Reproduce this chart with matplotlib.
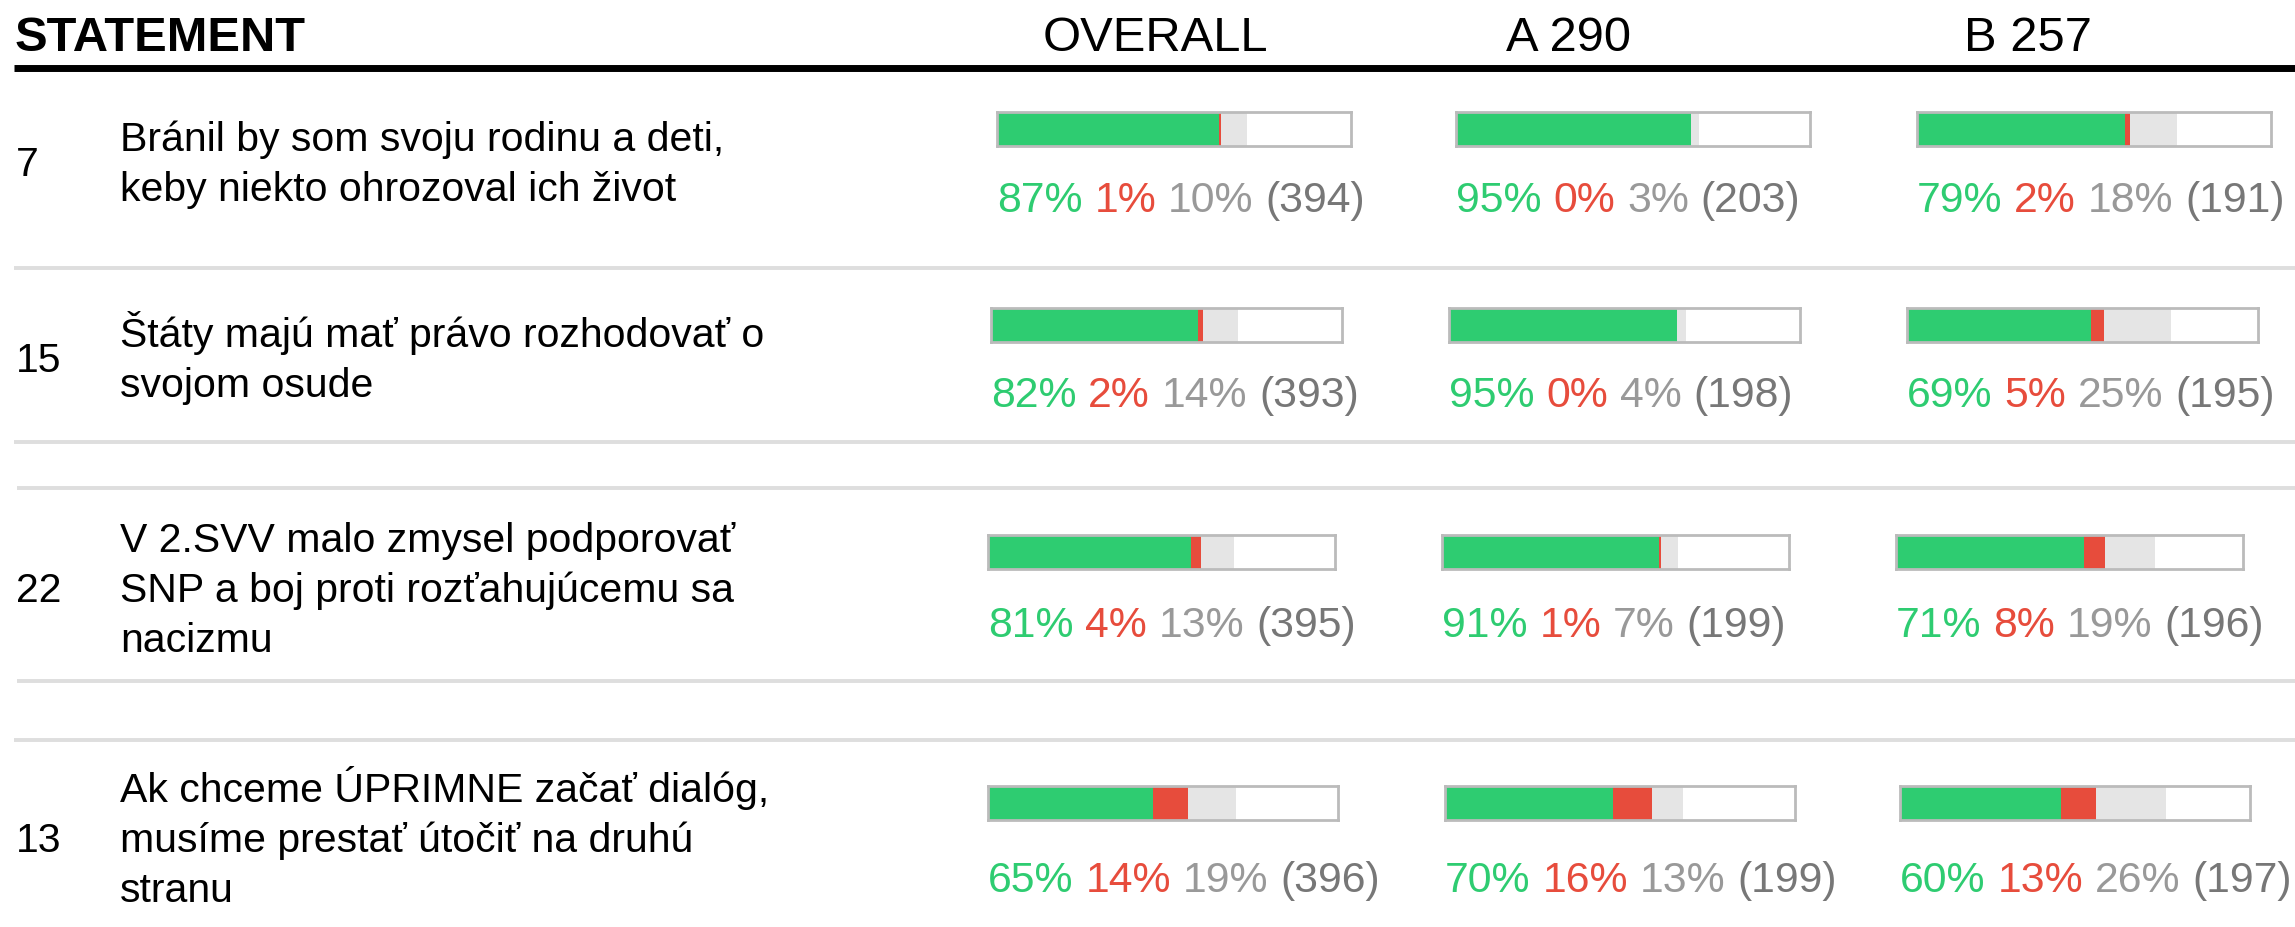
import matplotlib
matplotlib.use("Agg")
import matplotlib.pyplot as plt

plt.rcParams['font.family'] = ['Liberation Sans', 'DejaVu Sans']

# ---------------- data ----------------
columns = ["OVERALL", "A 290", "B 257"]
group_sizes = [547, 290, 257]          # respondents in each column (A + B = overall)

numbers = ["7", "15", "22", "13"]
statements = [
    ["Bránil by som svoju rodinu a deti,", "keby niekto ohrozoval ich život"],
    ["Štáty majú mať právo rozhodovať o", "svojom osude"],
    ["V 2.SVV malo zmysel podporovať", "SNP a boj proti rozťahujúcemu sa", "nacizmu"],
    ["Ak chceme ÚPRIMNE začať dialóg,", "musíme prestať útočiť na druhú", "stranu"],
]

agree_overall = [87, 82, 81, 65]
agree_a = [95, 95, 91, 70]
agree_b = [79, 69, 71, 60]

disagree_overall = [1, 2, 4, 14]
disagree_a = [0, 0, 1, 16]
disagree_b = [2, 5, 8, 13]

neutral_overall = [10, 14, 13, 19]
neutral_a = [3, 4, 7, 13]
neutral_b = [18, 25, 19, 26]

count_overall = [394, 393, 395, 396]
count_a = [203, 198, 199, 199]
count_b = [191, 195, 196, 197]

agree = [agree_overall, agree_a, agree_b]
disagree = [disagree_overall, disagree_a, disagree_b]
neutral = [neutral_overall, neutral_a, neutral_b]
counts = [count_overall, count_a, count_b]

# ---------------- style / layout ----------------
W, H = 2295, 928
GREEN = "#2ECC71"
RED = "#E74C3C"
LIGHT = "#E5E5E5"
BORDER = "#BBBBBB"
GRAY_PCT = "#999999"
GRAY_N = "#777777"
SEP = "#DEDEDE"

FS_PCT = 30.8
FS_STMT = 29.5
FS_NUM = 29.5
FS_HEAD = 35.2

# layout (pixel positions in the figure)
bar_left = [[997, 1456, 1917], [991, 1449, 1907], [988, 1442, 1896], [988, 1445, 1900]]
bar_width = [354, 351, 347, 350]
bar_top = [113, 309, 536, 787]
bar_h = 34
text_base = [212, 407, 637, 892]
num_base = [176, 372, 602, 852]
line_gap = 50
head_x = [1155, 1569, 2028]

fig = plt.figure(figsize=(W / 100, H / 100), dpi=100)
bg = fig.add_axes([0, 0, 1, 1])
bg.set_xlim(0, W)
bg.set_ylim(H, 0)
bg.axis("off")

# header
bg.text(15, 51, "STATEMENT", fontsize=FS_HEAD, fontweight="bold", ha="left", va="baseline", color="black")
for cx, name in zip(head_x, columns):
    bg.text(cx, 51, name, fontsize=FS_HEAD, ha="center", va="baseline", color="black")
bg.plot([14, W], [68.5, 68.5], color="black", lw=5.0, solid_capstyle="butt")

# separators
for y, x0 in zip([269, 443, 489, 682, 741], [14, 14, 17, 17, 14]):
    bg.plot([x0, W], [y, y], color=SEP, lw=2.8, solid_capstyle="butt")

renderer = fig.canvas.get_renderer()


def text_width(s, fs):
    t = bg.text(0, 0, s, fontsize=fs)
    w = t.get_window_extent(renderer).width
    t.remove()
    return w


space_w = text_width("0 0", FS_PCT) - text_width("00", FS_PCT)

for r in range(len(numbers)):
    # number and statement
    bg.text(16, num_base[r], numbers[r], fontsize=FS_NUM, ha="left", va="baseline", color="black")
    lines = statements[r]
    n = len(lines)
    for i, line in enumerate(lines):
        yb = num_base[r] + (i - (n - 1) / 2) * line_gap
        bg.text(120, yb, line, fontsize=FS_STMT, ha="left", va="baseline", color="black")

    for c in range(len(columns)):
        left = bar_left[r][c]
        scale = counts[c][r] / group_sizes[c]
        ax = fig.add_axes([left / W, 1 - (bar_top[r] + bar_h) / H, bar_width[r] / W, bar_h / H])
        vals = [agree[c][r] * scale, disagree[c][r] * scale, neutral[c][r] * scale]
        starts = [0, vals[0], vals[0] + vals[1]]
        ax.barh([0, 0, 0], vals, left=starts, height=1.0, color=[GREEN, RED, LIGHT], linewidth=0)
        ax.set_xlim(0, 100)
        ax.set_ylim(-0.5, 0.5)
        ax.set_xticks([])
        ax.set_yticks([])
        for sp in ax.spines.values():
            sp.set_color(BORDER)
            sp.set_linewidth(2.0)

        pieces = [f"{agree[c][r]}%", f"{disagree[c][r]}%", f"{neutral[c][r]}%", f"({counts[c][r]})"]
        colors = [GREEN, RED, GRAY_PCT, GRAY_N]
        x = left
        for p, col in zip(pieces, colors):
            t = bg.text(x, text_base[r], p, fontsize=FS_PCT, ha="left", va="baseline", color=col)
            x += t.get_window_extent(renderer).width + space_w

fig.savefig("out.png", dpi=100, facecolor="white")
